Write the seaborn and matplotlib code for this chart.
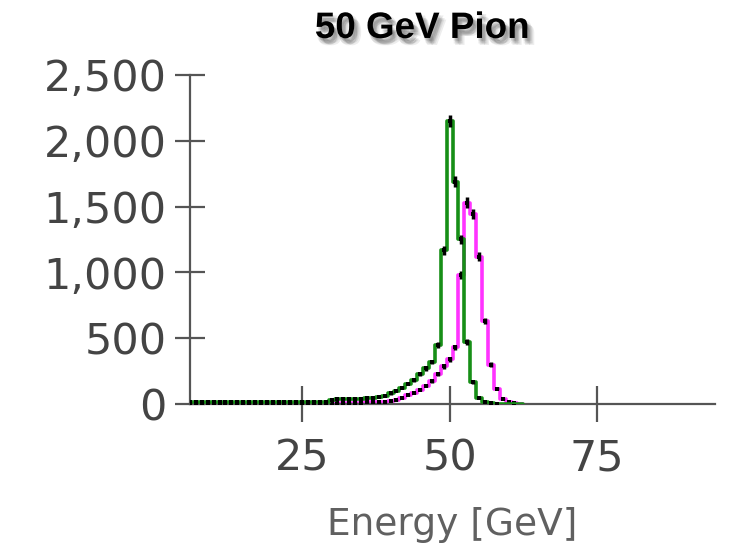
import numpy as np
import pandas as pd
import seaborn as sns
import matplotlib
matplotlib.use("Agg")
import matplotlib.pyplot as plt
import matplotlib.patheffects as pe
from matplotlib.ticker import FuncFormatter

# Energy bins (GeV), 1 GeV wide, centred on integers
bin_centers = list(range(6, 63))

# green histogram counts per bin
green_counts = [12, 12, 12, 13, 12, 12, 13, 12, 13, 12, 13, 13, 14, 13, 14, 14,
                15, 14, 15, 15, 16, 16, 17, 18,
                30, 40, 40, 35, 38, 40, 42, 48, 55, 60, 80, 100, 125, 155, 180,
                225, 270, 320, 450, 1170, 2150, 1690, 1250, 470, 165, 45, 12,
                5, 2, 0, 0, 0, 0]

# magenta histogram counts per bin
magenta_counts = [4, 4, 4, 4, 5, 4, 5, 5, 5, 5, 5, 6, 5, 6, 6, 6, 6, 7, 7, 7,
                  7, 8, 8, 8,
                  8, 9, 9, 10, 10, 11, 12, 13, 15, 18, 22, 32, 48, 65, 85, 110,
                  140, 175, 230, 285, 340, 430, 980, 1530, 1440, 1120, 630,
                  300, 115, 38, 15, 5, 0]

x_ticks = [25, 50, 75]
y_ticks = [0, 500, 1000, 1500, 2000, 2500]

sns.set_style("white")
plt.rcParams['font.family'] = ['DejaVu Sans']

fig = plt.figure(figsize=(7.3, 5.48), dpi=100)
ax = fig.add_axes([0.2603, 0.2628, 0.7192, 0.6004])

centers = np.array(bin_centers, dtype=float)
edges = list(np.append(centers - 0.5, centers[-1] + 0.5))


def draw_hist(counts, color, z):
    df = pd.DataFrame({'energy': centers, 'count': np.array(counts, dtype=float)})
    sns.histplot(data=df, x='energy', weights='count', bins=edges, element="step",
                 fill=False, color=color, linewidth=2.6, ax=ax, zorder=z)
    nz = df[df['count'] > 0]
    ax.errorbar(nz['energy'], nz['count'], yerr=np.sqrt(nz['count']),
                fmt='s', ms=2.5, mew=0, color='black', ecolor='black',
                elinewidth=2.5, capsize=0, zorder=z + 1)


draw_hist(magenta_counts, '#ff33ff', 2)
draw_hist(green_counts, '#178f17', 4)

ax.set_xlim(6, 95)
ax.set_ylim(0, 2500)
ax.set_xticks(x_ticks)
ax.set_yticks(y_ticks)
ax.yaxis.set_major_formatter(FuncFormatter(lambda v, p: f'{int(v):,}'))

sns.despine(ax=ax)
for side in ['left', 'bottom']:
    ax.spines[side].set_color('#555555')
    ax.spines[side].set_linewidth(1.6)

ax.tick_params(axis='both', direction='inout', color='#555555', width=1.6,
               labelsize=31, labelcolor='#444444', bottom=True, left=True)
ax.tick_params(axis='y', length=22, pad=6)
ax.tick_params(axis='x', length=26, pad=11)

ax.set_ylabel('')
ax.set_xlabel('Energy [GeV]', fontsize=27, color='#606060', labelpad=20)

# soft drop shadow under the title, built from a few faint offset copies
shadow = [pe.SimplePatchShadow(offset=(dx, dy), shadow_rgbFace='#000000', alpha=0.07)
          for dx, dy in [(1, -2), (3, -2), (2, -3), (4, -4), (2, -5), (3, -4), (5, -5), (1, -4)]]
fig.text(0.578, 0.9307, '50 GeV Pion', ha='center', va='baseline',
         fontsize=26.5, fontweight='bold', family=['Liberation Sans', 'DejaVu Sans'],
         color='black', path_effects=shadow + [pe.Normal()])

fig.savefig('out.png', dpi=100, facecolor='white')
